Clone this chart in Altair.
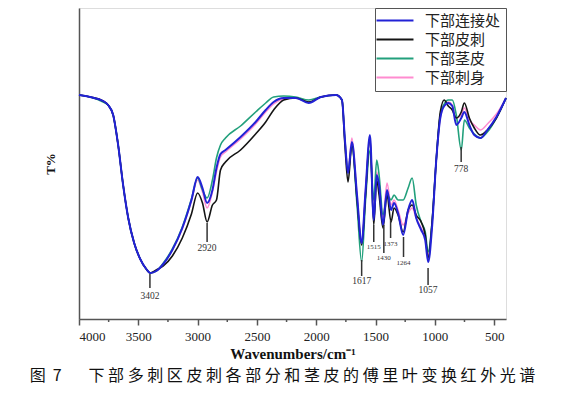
import altair as alt
import pandas as pd

# ---- data (T% in arbitrary units) ----
wn = [4000, 3907, 3797, 3755, 3712, 3670, 3628, 3585, 3535, 3484, 3433, 3400,
      3349, 3289, 3213, 3129, 3052,
      3000, 2959, 2920, 2875, 2841, 2807, 2765,
      2638, 2511, 2426, 2359, 2274, 2173, 2063,
      1961, 1834, 1783, 1758, 1732, 1699, 1656, 1617,
      1584, 1547, 1515, 1490, 1470, 1437, 1403, 1369, 1344, 1310,
      1267, 1225, 1191, 1157, 1115, 1081, 1056, 1022,
      988, 954, 921, 887, 853, 819, 777, 751, 709, 667, 616, 557, 481, 400]

blue = [224, 222, 218, 214, 204, 174, 134, 101, 76, 60, 50, 46,
        48, 55, 69, 91, 119,
        142, 131, 116, 129, 151, 165, 169,
        182, 197, 209, 217, 221, 221, 216,
        222, 224, 219, 179, 146, 177, 124, 76,
        129, 184, 99, 144, 134, 94, 129, 109, 116, 106,
        84, 109, 119, 101, 89, 79, 57, 94,
        159, 201, 213, 216, 213, 194, 201, 207, 194, 184, 181, 189, 202, 221]

black = [224, 222, 218, 214, 204, 174, 134, 101, 76, 60, 50, 46,
         49, 53, 63, 81, 105,
         126, 116, 97, 114, 119, 149, 157,
         169, 185, 197, 209, 219, 221, 217,
         222, 224, 219, 174, 137, 174, 119, 74,
         124, 182, 94, 139, 124, 91, 124, 97, 111, 104,
         87, 109, 114, 104, 97, 84, 61, 99,
         159, 207, 219, 213, 209, 201, 207, 216, 201, 191, 184, 189, 201, 221]

green = [224, 222, 217, 214, 204, 174, 134, 101, 76, 60, 50, 46,
         48, 56, 70, 92, 120,
         141, 129, 121, 139, 161, 174, 181,
         193, 207, 216, 222, 223, 222, 219,
         222, 224, 219, 179, 147, 174, 114, 57,
         119, 169, 119, 159, 144, 104, 124, 119, 124, 119,
         119, 131, 141, 114, 97, 87, 67, 99,
         159, 204, 215, 219, 219, 204, 169, 199, 191, 185, 181, 187, 201, 221]

pink = [224, 222, 218, 214, 204, 174, 134, 101, 76, 60, 50, 46,
        48, 55, 69, 90, 118,
        139, 127, 111, 127, 147, 162, 167,
        180, 195, 207, 215, 220, 221, 217,
        222, 224, 219, 179, 149, 181, 124, 77,
        129, 182, 104, 147, 134, 101, 136, 114, 119, 109,
        94, 106, 111, 101, 91, 81, 64, 97,
        159, 201, 214, 217, 214, 201, 204, 211, 199, 194, 189, 195, 205, 221]

series_names = ["下部连接处", "下部皮刺", "下部茎皮", "下部刺身"]
series_colors = ["#2222d6", "#141414", "#22a07c", "#ff8cd0"]
series_values = [blue, black, green, pink]

# peak annotations
ann_labels = ["3402", "2920", "1617", "1515", "1430", "1373", "1264", "1057", "778"]
ann_wn = [3402, 2920, 1617, 1515, 1430, 1373, 1264, 1057, 778]
ann_top = [45, 96, 59, 94, 94, 99, 82, 51, 172]
ann_bot = [31, 77, 43, 77, 66, 81, 62, 34, 157]
ann_text = [23, 71, 38, 72, 61, 75, 56, 29, 150]
ann_fs = [9.5, 9.5, 9.5, 7, 7, 7, 7, 9.5, 9.5]

major_ticks = [4000, 3500, 3000, 2500, 2000, 1500, 1000, 500]
minor_ticks = [3750, 3250, 2750, 2250, 1750, 1250, 750]

caption_chars = "下部多刺区皮刺各部分和茎皮的傅里叶变换红外光谱"
caption = "图\u00a0\u00a07" + "\u3000\u00a0\u00a0\u00a0" + " ".join(caption_chars)

# ---- tables ----
rows = []
for name, vals in zip(series_names, series_values):
    for w, t in zip(wn, vals):
        rows.append({"wn": w, "t": t, "series": name})
df = pd.DataFrame(rows)
ann_df = pd.DataFrame({"wn": ann_wn, "t": ann_top, "t2": ann_bot,
                       "ty": ann_text, "label": ann_labels, "fs": ann_fs})
minor_df = pd.DataFrame({"wn": minor_ticks})

W, H = 427, 311
SERIF = "Liberation Serif"

x_axis = alt.Axis(values=major_ticks, format="d", title="Wavenumbers/cm⁻¹",
                  labelFont=SERIF, labelFontSize=13, labelColor="#222",
                  labelPadding=5, tickSize=6, tickWidth=1.5, tickColor="#555",
                  domainColor="#555", domainWidth=1.5, grid=False,
                  titleFont=SERIF, titleFontSize=15, titleFontWeight="bold",
                  titleColor="#111", titlePadding=3)
y_axis = alt.Axis(labels=False, ticks=False, grid=False, title="T%",
                  domainColor="#555", domainWidth=1.5,
                  titleFont=SERIF, titleFontSize=13, titleFontWeight="bold",
                  titleColor="#111", titlePadding=22)

xscale = alt.Scale(domain=[4000, 400], nice=False, zero=False)
yscale = alt.Scale(domain=[0, 311], nice=False, zero=False)

X = alt.X("wn:Q", scale=xscale, axis=x_axis)
Y = alt.Y("t:Q", scale=yscale, axis=y_axis)

legend = alt.Legend(title=None, orient="none", legendX=296, legendY=0,
                    direction="vertical", symbolType="M-1.83,0H4.33",
                    symbolSize=144, symbolStrokeWidth=2.2,
                    labelFont="Noto Sans CJK SC",
                    labelFontSize=15, labelColor="#222", strokeColor="#555",
                    fillColor="white", padding=5, rowPadding=3, labelOffset=30)
COLOR = alt.Color("series:N", scale=alt.Scale(domain=series_names, range=series_colors),
                  legend=legend)

layers = []
for name, sw in [("下部刺身", 1.5), ("下部茎皮", 1.6), ("下部皮刺", 1.6), ("下部连接处", 2.0)]:
    layers.append(
        alt.Chart(df).transform_filter(alt.datum.series == name)
        .mark_line(strokeWidth=sw, interpolate="monotone")
        .encode(x=X, y=Y, color=COLOR)
    )

ann_rules = alt.Chart(ann_df).mark_rule(color="#333", strokeWidth=1.5).encode(
    x=X, y=Y, y2="t2:Q")
ann_texts = alt.Chart(ann_df).mark_text(font=SERIF, color="#333", baseline="middle").encode(
    x=X, y=alt.Y("ty:Q", scale=yscale, axis=y_axis), text="label:N",
    size=alt.Size("fs:Q", scale=None, legend=None))
minor = alt.Chart(minor_df).mark_rule(color="#555", strokeWidth=1.5).encode(
    x=X, y=alt.value(H), y2=alt.value(H + 3))

chart = alt.layer(*layers, ann_rules, ann_texts, minor).properties(
    width=W, height=H,
    autosize=alt.AutoSizeParams(type="none"),
    padding={"left": 71, "top": 0, "right": 55, "bottom": 71},
    title=alt.TitleParams(text=caption, orient="bottom", anchor="middle",
                          font="Noto Sans CJK SC", fontSize=16, fontWeight="normal",
                          color="#111", offset=7, dx=-10),
).configure_view(stroke="#555", strokeWidth=1.5).configure(background="white")

chart.save("out.html", embed_options={"renderer": "svg", "actions": False})
